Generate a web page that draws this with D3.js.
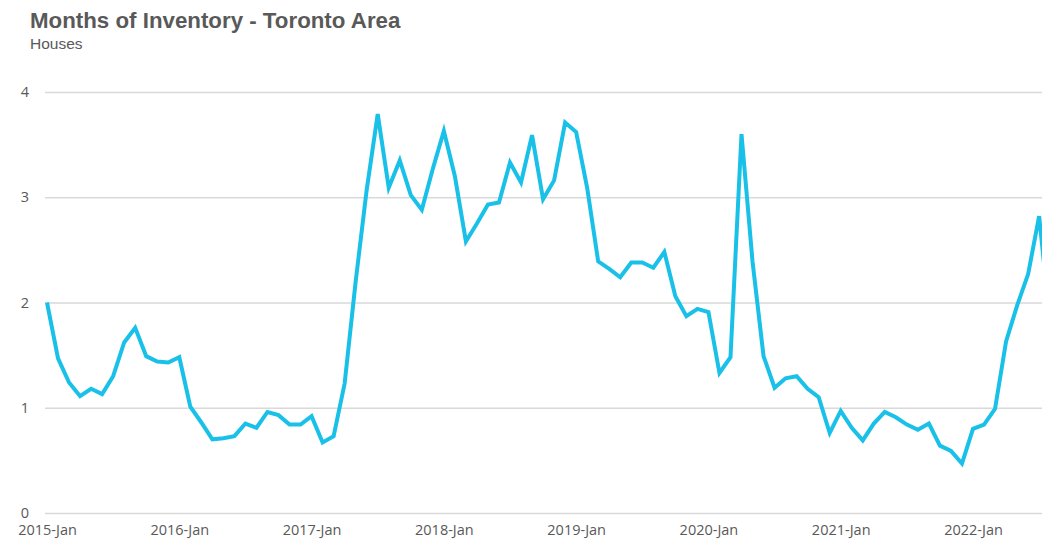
<!DOCTYPE html>
<html>
<head>
<meta charset="utf-8">
<script src="https://cdn.jsdelivr.net/npm/d3@7"></script>
<style>
  body { margin: 0; background: #fff; }
  svg { display: block; }
</style>
</head>
<body>
<div id="chart"></div>
<script>
// monthly months-of-inventory, houses, starting 2015-Jan
var startYear = 2015;
var inventory = [
	2.00, 1.47, 1.24, 1.11, 1.18, 1.13, 1.30, 1.62, 1.76, 1.49, 1.44, 1.43,
	1.48, 1.01, 0.86, 0.70, 0.71, 0.73, 0.85, 0.81, 0.96, 0.93, 0.84, 0.84,
	0.92, 0.67, 0.73, 1.23, 2.20, 3.07, 3.79, 3.09, 3.35, 3.02, 2.88, 3.27,
	3.63, 3.20, 2.58, 2.75, 2.93, 2.95, 3.33, 3.14, 3.59, 2.98, 3.16, 3.71,
	3.62, 3.09, 2.39, 2.32, 2.24, 2.38, 2.38, 2.33, 2.48, 2.06, 1.87, 1.94,
	1.91, 1.33, 1.48, 3.60, 2.39, 1.49, 1.19, 1.28, 1.30, 1.18, 1.10, 0.76,
	0.97, 0.81, 0.69, 0.85, 0.96, 0.91, 0.84, 0.79, 0.85, 0.64, 0.59, 0.47,
	0.80, 0.84, 0.99, 1.63, 1.97, 2.27, 2.82, 1.80
];
var xTickLabels = ["2015-Jan", "2016-Jan", "2017-Jan", "2018-Jan", "2019-Jan", "2020-Jan", "2021-Jan", "2022-Jan"];
var yTicks = [0, 1, 2, 3, 4];

var width = 1042, height = 544;
var svg = d3.select("#chart").append("svg")
	.attr("width", width)
	.attr("height", height);

var x = d3.scaleLinear().domain([0, 84]).range([47, 973]);
var y = d3.scaleLinear().domain([0, 4]).range([513, 92]);

// gridlines + y labels
var yAxis = d3.axisLeft(y).tickValues(yTicks).tickFormat(d3.format("d"))
	.tickSize(-(width + 20 - 45)).tickPadding(16);
var gy = svg.append("g").attr("transform", "translate(45,0)").call(yAxis);
gy.select(".domain").remove();
gy.selectAll(".tick line").attr("stroke", "#d9d9d9").attr("stroke-width", 1.5);
gy.selectAll(".tick text")
	.attr("fill", "#595959")
	.style("font-family", "'Open Sans', sans-serif")
	.style("font-size", "14.5px");

// x labels, one per january
var xAxis = d3.axisBottom(x)
	.tickValues(xTickLabels.map(function(d, i) { return i * 12; }))
	.tickFormat(function(d, i) { return xTickLabels[i]; })
	.tickSize(0).tickPadding(8);
var gx = svg.append("g").attr("transform", "translate(0,517)").call(xAxis);
gx.select(".domain").remove();
gx.selectAll(".tick text")
	.attr("fill", "#595959")
	.style("font-family", "'Open Sans', sans-serif")
	.style("font-size", "14.5px");

var line = d3.line()
	.x(function(d, i) { return x(i); })
	.y(function(d) { return y(d); });

svg.append("path")
	.datum(inventory)
	.attr("d", line)
	.attr("fill", "none")
	.attr("stroke", "#19c0e8")
	.attr("stroke-width", 4)
	.attr("stroke-linejoin", "miter");

svg.append("text")
	.attr("x", 30).attr("y", 28)
	.style("font-family", "'Liberation Sans', Arial, sans-serif")
	.style("font-weight", "bold")
	.style("font-size", "22.3px")
	.attr("fill", "#595959")
	.text("Months of Inventory - Toronto Area");

svg.append("text")
	.attr("x", 30).attr("y", 49)
	.style("font-family", "'Liberation Sans', Arial, sans-serif")
	.style("font-size", "15.5px")
	.attr("fill", "#595959")
	.text("Houses");
</script>
</body>
</html>
